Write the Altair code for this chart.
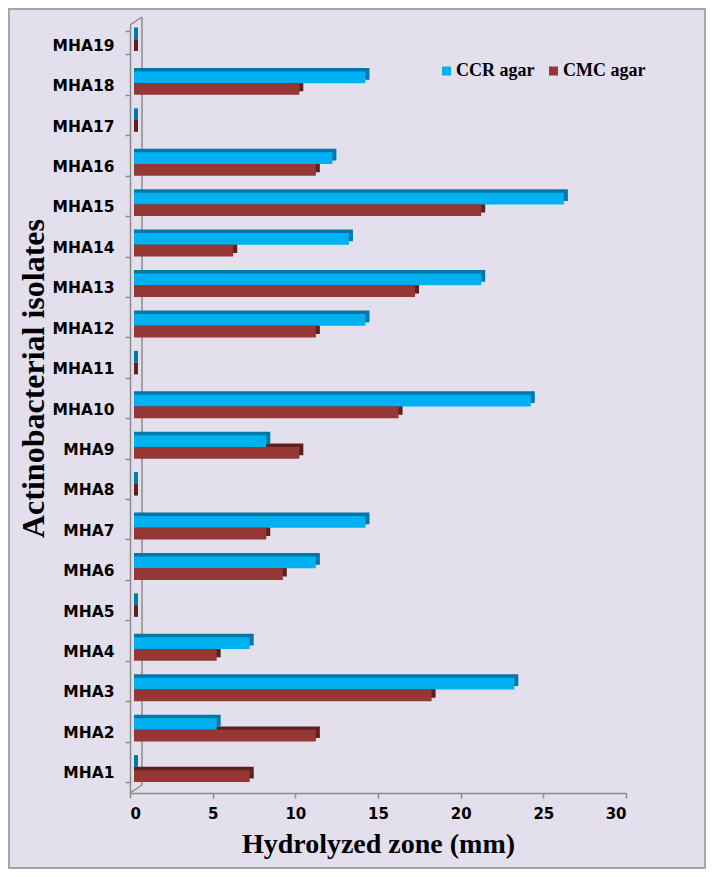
import altair as alt
import pandas as pd

isolates = ["MHA1", "MHA2", "MHA3", "MHA4", "MHA5", "MHA6", "MHA7", "MHA8", "MHA9", "MHA10",
            "MHA11", "MHA12", "MHA13", "MHA14", "MHA15", "MHA16", "MHA17", "MHA18", "MHA19"]
ccr_agar = [0, 5, 23, 7, 0, 11, 14, 0, 8, 24, 0, 14, 21, 13, 26, 12, 0, 14, 0]
cmc_agar = [7, 11, 18, 5, 0, 9, 8, 0, 10, 16, 0, 11, 17, 6, 21, 11, 0, 10, 0]
series = ["CCR agar", "CMC agar"]
front_colors = ["#00b0f0", "#953735"]
depth_colors = ["#0079a8", "#5e1f1d"]
x_ticks = [0, 5, 10, 15, 20, 25, 30]

rows = []
for i, name in enumerate(isolates):
    rows.append({"isolate": name, "series": series[0], "value": ccr_agar[i]})
    rows.append({"isolate": name, "series": series[1], "value": cmc_agar[i]})
df = pd.DataFrame(rows)

W, H = 496, 768
GRAY = "#8c8c8c"
BG = "#e4dfec"
order_top_down = list(reversed(isolates))

y_axis = alt.Axis(title="Actinobacterial isolates", titleFont="Liberation Serif",
                  titleFontWeight="bold", titleFontSize=32, titleColor="black",
                  titleX=-87, titleY=353, titleAngle=270, titleAlign="center",
                  titleBaseline="alphabetic",
                  labelFont="DejaVu Sans", labelFontWeight="bold", labelFontSize=15.5,
                  labelColor="black", labelPadding=11, labelOffset=2.5, tickBand="extent",
                  tickSize=5, tickColor=GRAY, domainColor=GRAY, domainWidth=1.5,
                  tickWidth=1.5)
y_front = alt.Y("isolate:N", sort=order_top_down,
                scale=alt.Scale(paddingInner=0.42, paddingOuter=0.21, align=0.353),
                axis=y_axis)
y_depth = alt.Y("isolate:N", sort=order_top_down,
                scale=alt.Scale(paddingInner=0.42, paddingOuter=0.21, align=0.147),
                axis=None)
yoff_enc = alt.YOffset("series:N", sort=series, scale=alt.Scale(paddingInner=0, paddingOuter=0))
x_enc = alt.X("value:Q", stack=None,
              scale=alt.Scale(domain=[0, 30], nice=False, zero=True),
              axis=alt.Axis(values=x_ticks, title="Hydrolyzed zone (mm)",
                            titleFont="Liberation Serif", titleFontWeight="bold",
                            titleFontSize=28, titleColor="black", titleX=W / 2, titleY=59,
                            titleBaseline="alphabetic",
                            labelFont="DejaVu Sans", labelFontWeight="bold", labelFontSize=15,
                            labelColor="black", labelPadding=8, tickSize=5, tickColor=GRAY,
                            domainColor=GRAY, domainWidth=1.5, tickWidth=1.5, grid=False))

base = alt.Chart(df)

depth = base.transform_calculate(shade="datum.series").mark_bar(xOffset=8, x2Offset=4).encode(
    y=y_depth, yOffset=yoff_enc, x=x_enc, x2=alt.datum(0),
    fill=alt.Fill("shade:N", scale=alt.Scale(domain=series, range=depth_colors), legend=None),
)

front = base.mark_bar(xOffset=4, x2Offset=4).encode(
    y=y_front, yOffset=yoff_enc, x=x_enc, x2=alt.datum(0),
    color=alt.Color("series:N", scale=alt.Scale(domain=series, range=front_colors), legend=None),
)

one = pd.DataFrame({"v": [0]})

# legend (drawn as marks): symbol x, label x, shared y, in plot pixels
legend_symbol_x = [316.5, 423.5]
legend_y = 46
legend_layers = []
for i, name in enumerate(series):
    legend_layers.append(
        alt.Chart(one).mark_square(size=81, color=front_colors[i], opacity=1, clip=False).encode(
            x=alt.value(legend_symbol_x[i]), y=alt.value(legend_y)))
    legend_layers.append(
        alt.Chart(one).mark_text(text=name, font="Liberation Serif", fontWeight="bold",
                                 fontSize=18, color="black", align="left",
                                 baseline="middle", clip=False).encode(
            x=alt.value(legend_symbol_x[i] + 9.5), y=alt.value(legend_y)))

frame = alt.Chart(one).mark_rect(fillOpacity=0, stroke="#a6a6a6", strokeWidth=2, clip=False).encode(
    x=alt.value(-121), x2=alt.value(W + 79), y=alt.value(-16), y2=alt.value(H + 75))
wall = alt.Chart(one).mark_rule(
    color=GRAY, strokeWidth=1.5, xOffset=12, yOffset=-8, y2Offset=-8).encode(
    x=alt.datum(0), y=alt.value(0), y2=alt.value(H))
top_edge = alt.Chart(one).mark_rule(
    color=GRAY, strokeWidth=1.5, x2Offset=12, y2Offset=-8).encode(
    x=alt.datum(0), x2=alt.datum(0), y=alt.value(0), y2=alt.value(0))
floor_edge = alt.Chart(one).mark_rule(
    color=GRAY, strokeWidth=1.5, x2Offset=12, y2Offset=-8).encode(
    x=alt.datum(0), x2=alt.datum(0), y=alt.value(H), y2=alt.value(H))

chart = alt.layer(frame, wall, top_edge, floor_edge, depth, front, *legend_layers).resolve_scale(
    y="independent"
).properties(
    width=W, height=H,
    padding={"left": 122, "top": 17, "right": 80, "bottom": 76},
    autosize=alt.AutoSizeParams(type="none"),
    background=BG,
).configure_view(strokeWidth=0)

chart.save("out.html", embed_options={"renderer": "svg", "actions": False})
